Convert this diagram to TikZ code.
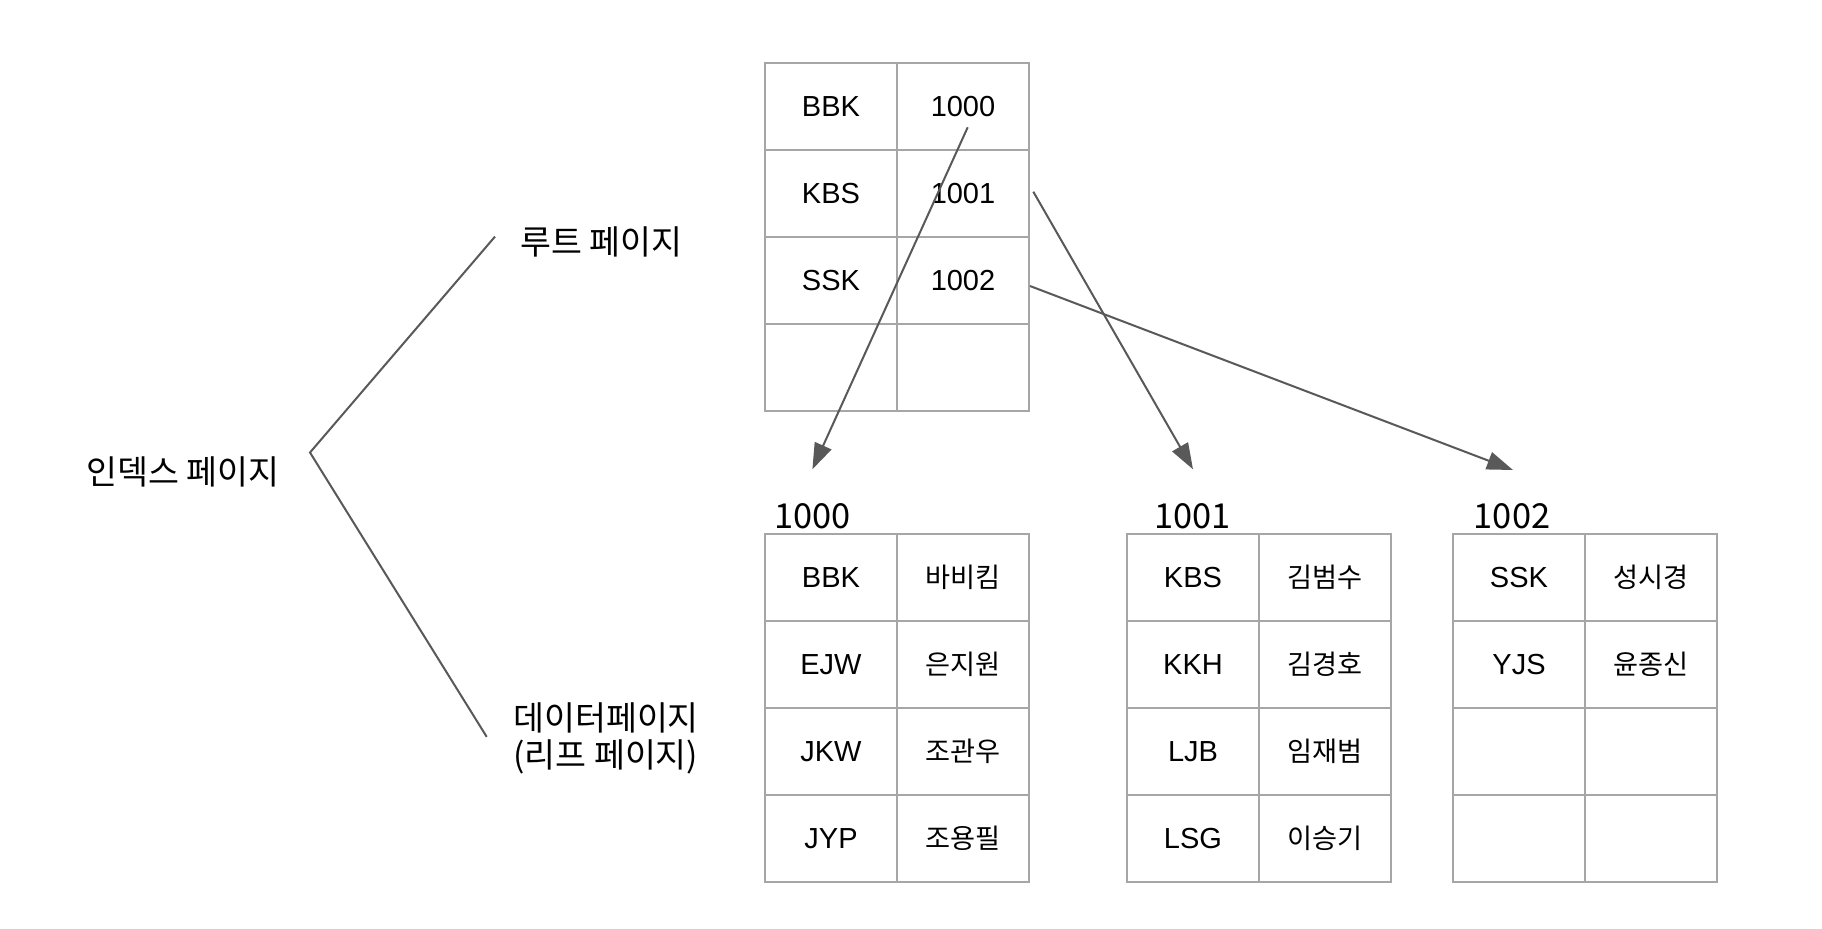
\documentclass[tikz,border=0pt]{standalone}
\usepackage{fontspec}
\setmainfont{Liberation Sans}
\newfontfamily\kr{Noto Sans CJK KR}
\usetikzlibrary{arrows.meta}
\definecolor{gridc}{HTML}{A6A6A6}
\definecolor{linec}{HTML}{595959}
\begin{document}
\begin{tikzpicture}[x=0.5pt,y=-0.5pt,
  cell/.style={draw=gridc,line width=1.15pt,minimum width=66pt,minimum height=43.5pt,
    inner sep=0pt,outer sep=0pt,font=\fontsize{14.5}{17}\selectfont},
  krcell/.style={cell,font=\kr\fontsize{13.6}{16}\selectfont},
  lbl/.style={font=\kr\fontsize{16.8}{18.5}\selectfont,inner sep=0pt,anchor=base west},
  pagenum/.style={font=\kr\fontsize{17.2}{19}\selectfont,inner sep=0pt,anchor=base},
  conn/.style={draw=linec,line width=1pt},
  arr/.style={conn,-{Triangle[length=13pt,width=9pt]}}]
\useasboundingbox[fill=white] (0,0) rectangle (1822,928);

% root page
\node[cell] (r1k) at (831,106.5) {BBK};
\node[cell] (r1v) at (963,106.5) {1000};
\node[cell] (r2k) at (831,193.5) {KBS};
\node[cell] (r2v) at (963,193.5) {1001};
\node[cell] (r3k) at (831,280.5) {SSK};
\node[cell] (r3v) at (963,280.5) {1002};
\node[cell] (r4k) at (831,367.5) {};
\node[cell] (r4v) at (963,367.5) {};

% leaf 1000
\node[cell]   (a1k) at (831,577.5) {BBK};
\node[krcell] (a1v) at (963,577.5) {바비킴};
\node[cell]   (a2k) at (831,664.5) {EJW};
\node[krcell] (a2v) at (963,664.5) {은지원};
\node[cell]   (a3k) at (831,751.5) {JKW};
\node[krcell] (a3v) at (963,751.5) {조관우};
\node[cell]   (a4k) at (831,838.5) {JYP};
\node[krcell] (a4v) at (963,838.5) {조용필};

% leaf 1001
\node[cell]   (b1k) at (1193,577.5) {KBS};
\node[krcell] (b1v) at (1325,577.5) {김범수};
\node[cell]   (b2k) at (1193,664.5) {KKH};
\node[krcell] (b2v) at (1325,664.5) {김경호};
\node[cell]   (b3k) at (1193,751.5) {LJB};
\node[krcell] (b3v) at (1325,751.5) {임재범};
\node[cell]   (b4k) at (1193,838.5) {LSG};
\node[krcell] (b4v) at (1325,838.5) {이승기};

% leaf 1002
\node[cell]   (c1k) at (1519,577.5) {SSK};
\node[krcell] (c1v) at (1651,577.5) {성시경};
\node[cell]   (c2k) at (1519,664.5) {YJS};
\node[krcell] (c2v) at (1651,664.5) {윤종신};
\node[cell]   (c3k) at (1519,751.5) {};
\node[krcell] (c3v) at (1651,751.5) {};
\node[cell]   (c4k) at (1519,838.5) {};
\node[krcell] (c4v) at (1651,838.5) {};

% page numbers
\node[pagenum] (pa) at (812.6,528.3) {1000};
\node[pagenum] (pb) at (1192.5,528.3) {1001};
\node[pagenum] (pc) at (1512,528.3) {1002};

% labels
\node[lbl] (idx) at (86,484) {인덱스 페이지};
\node[lbl] (rootlbl) at (520,254.5) {루트 페이지};
\node[lbl,align=left] (leaflbl) at (513,767) {데이터페이지\\(리프 페이지)};

% bracket
\coordinate (bt) at (495,236.6);
\coordinate (bv) at (310,452.5);
\coordinate (bb) at (486.7,736.8);
\draw[conn] (bt) -- (bv) -- (bb);

% arrows
\coordinate (s1) at (967.7,127.3);
\coordinate (t1) at (812.4,469.3);
\coordinate (s2) at (1033.3,191.7);
\coordinate (t2) at (1193,469.3);
\coordinate (s3) at (1030,286);
\coordinate (t3) at (1513,470);
\draw[arr] (s1) -- (t1);
\draw[arr] (s2) -- (t2);
\draw[arr] (s3) -- (t3);
\end{tikzpicture}
\end{document}
